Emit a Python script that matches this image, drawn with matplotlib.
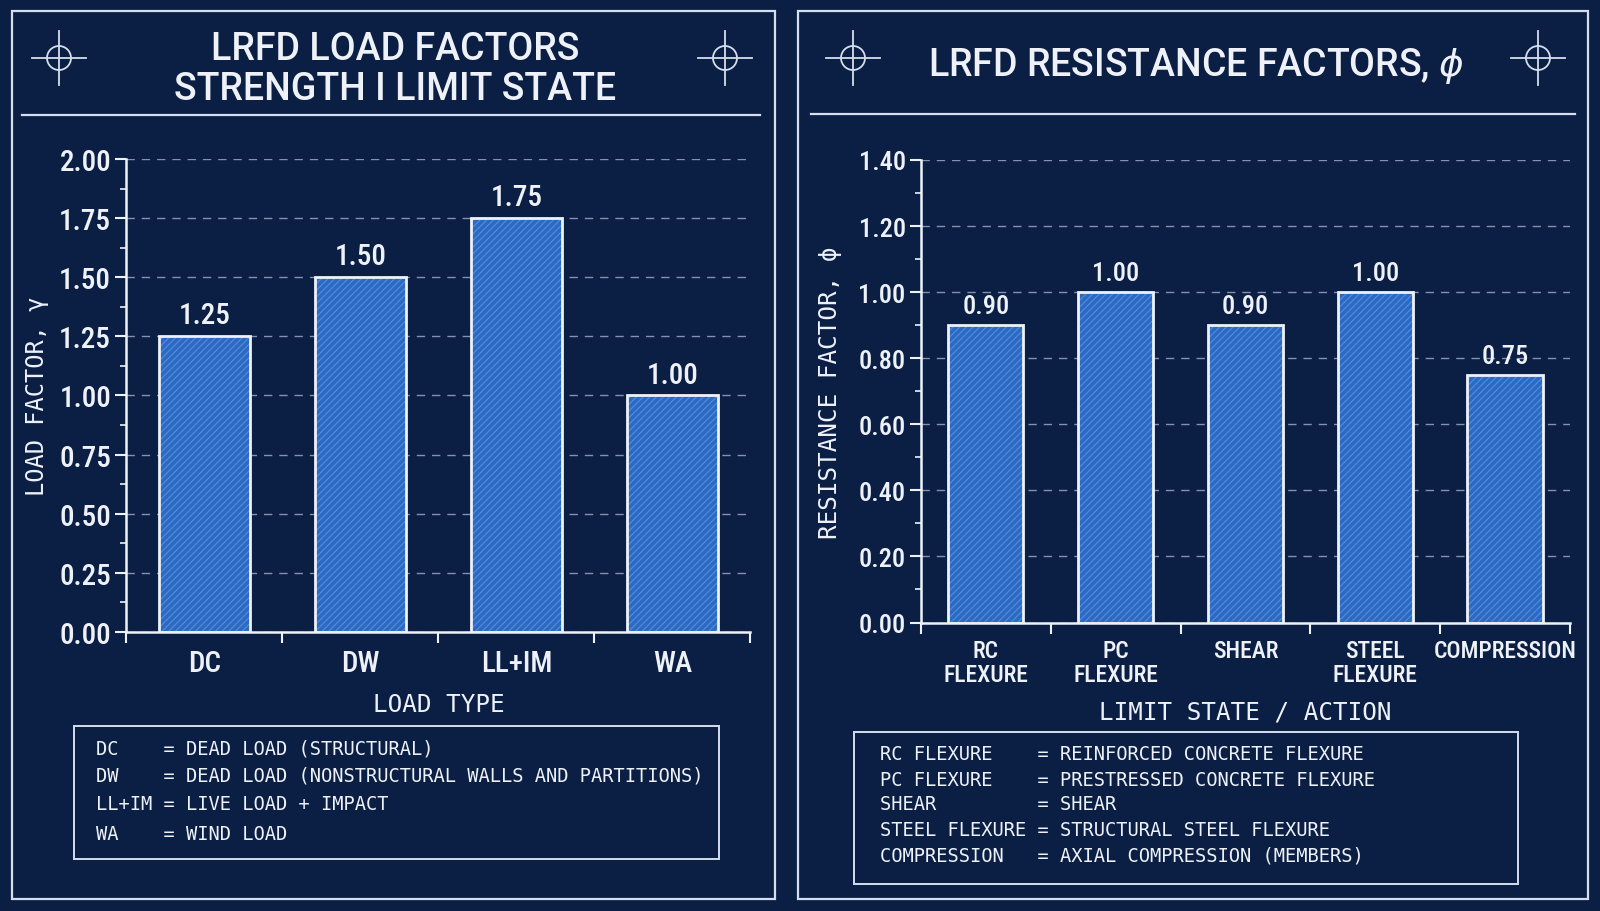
import numpy as np
import matplotlib.pyplot as plt
from matplotlib.patches import Circle, Rectangle
from matplotlib.lines import Line2D

# Datos
load_types = ['DC', 'DW', 'LL+IM', 'WA']
load_factors = [1.25, 1.50, 1.75, 1.00]
load_notes = ['DC    = DEAD LOAD (STRUCTURAL)',
              'DW    = DEAD LOAD (NONSTRUCTURAL WALLS AND PARTITIONS)',
              'LL+IM = LIVE LOAD + IMPACT',
              'WA    = WIND LOAD']

actions = ['RC\nFLEXURE', 'PC\nFLEXURE', 'SHEAR', 'STEEL\nFLEXURE', 'COMPRESSION']
resist_factors = [0.90, 1.00, 0.90, 1.00, 0.75]
action_notes = ['RC FLEXURE    = REINFORCED CONCRETE FLEXURE',
                'PC FLEXURE    = PRESTRESSED CONCRETE FLEXURE',
                'SHEAR         = SHEAR',
                'STEEL FLEXURE = STRUCTURAL STEEL FLEXURE',
                'COMPRESSION   = AXIAL COMPRESSION (MEMBERS)']

# Estilo
BG = '#0b1f44'
WHITE = '#eef2f8'
LINE = '#d5deec'
BAR = '#2c69c2'
HATCH = '#4f8bdc'
GRID = '#8492b2'
NARROW = ['Roboto Condensed', 'Roboto', 'DejaVu Sans']
WIDE = ['Roboto', 'DejaVu Sans']
MONO = ['DejaVu Sans Mono', 'DejaVu Sans']

plt.rcParams['hatch.linewidth'] = 0.9

fig = plt.figure(figsize=(16, 9.12), dpi=100, facecolor=BG)

# Capa de decoracion en pixeles
deco = fig.add_axes([0, 0, 1, 1], zorder=0)
deco.set_xlim(0, 1600)
deco.set_ylim(912, 0)
deco.axis('off')
deco.patch.set_alpha(0)

for x0, x1 in [(12, 775), (798, 1588)]:
    deco.add_patch(Rectangle((x0, 12), x1 - x0, 888, fill=False, ec=LINE, lw=1.6))
deco.add_line(Line2D([22, 760], [116, 116], color=LINE, lw=1.6))
deco.add_line(Line2D([811, 1575], [115, 115], color=LINE, lw=1.6))

for cx, cy in [(59, 59), (725, 59), (853, 59), (1538, 59)]:
    deco.add_patch(Circle((cx, cy), 12, fill=False, ec=LINE, lw=1.3))
    deco.add_line(Line2D([cx - 27, cx + 27], [cy, cy], color=LINE, lw=1.3))
    deco.add_line(Line2D([cx, cx], [cy - 27, cy + 27], color=LINE, lw=1.3))

title_kw = dict(color=WHITE, fontsize=27, family=WIDE, fontweight='medium',
                ha='center', va='center')
deco.text(395, 49, 'LRFD LOAD FACTORS', **title_kw)
deco.text(395, 89, 'STRENGTH I LIMIT STATE', **title_kw)
deco.text(1196, 66, r'LRFD RESISTANCE FACTORS, $\phi$', **title_kw)

# Cajas de leyenda
deco.add_patch(Rectangle((73.5, 727), 645.5, 133, fill=False, ec=LINE, lw=1.4))
for y, s in zip([749, 776.5, 805, 835], load_notes):
    deco.text(96, y, s, color=WHITE, fontsize=13.5, family=MONO, va='center')
deco.add_patch(Rectangle((854, 733), 664, 152, fill=False, ec=LINE, lw=1.4))
for y, s in zip([755, 780.5, 805, 830.5, 856], action_notes):
    deco.text(880.5, y, s, color=WHITE, fontsize=13.5, family=MONO, va='center')


def bar_panel(ax, cats, vals, ymax, step, tick_fs, lab_fs, xtick_fs):
    x = np.arange(len(cats))
    ax.patch.set_alpha(0)
    ax.bar(x, vals, width=0.58, color=BAR, lw=0, zorder=2)
    ax.bar(x, vals, width=0.58, fill=False, hatch='/////', ec=HATCH, lw=0, zorder=3)
    ax.bar(x, vals, width=0.58, fill=False, ec=WHITE, lw=2, zorder=4)
    for xi, v in zip(x, vals):
        ax.annotate(f'{v:.2f}', (xi, v), xytext=(0, 5), textcoords='offset points',
                    ha='center', va='bottom', color=WHITE, fontsize=lab_fs,
                    family=NARROW, fontweight='medium')
    ax.set_xlim(-0.5, len(cats) - 0.5)
    ax.set_ylim(0, ymax)
    ticks = np.arange(0, ymax + step / 2, step)
    ax.set_yticks(ticks)
    ax.set_yticks(np.arange(step / 2, ymax, step), minor=True)
    ax.set_yticklabels([f'{t:.2f}' for t in ticks], family=NARROW,
                       fontsize=tick_fs, color=WHITE, fontweight='medium')
    ax.set_xticks(x)
    ax.set_xticklabels(cats, family=NARROW, fontsize=xtick_fs, color=WHITE,
                       linespacing=1.05, fontweight='medium')
    ax.set_xticks(np.arange(-0.5, len(cats), 1.0), minor=True)
    ax.tick_params(axis='x', which='major', length=0, pad=12)
    ax.tick_params(axis='x', which='minor', length=8, width=1.5, color=WHITE)
    ax.tick_params(axis='y', which='major', length=8, width=1.5, color=WHITE, pad=3)
    ax.tick_params(axis='y', which='minor', length=4, width=1.2, color=WHITE)
    for s in ['top', 'right']:
        ax.spines[s].set_visible(False)
    for s in ['left', 'bottom']:
        ax.spines[s].set_color(WHITE)
        ax.spines[s].set_linewidth(1.8)
    ax.grid(axis='y', color=GRID, ls=(0, (6, 5)), lw=1.0, zorder=0)
    ax.set_axisbelow(True)


ax1 = fig.add_axes([0.079, 0.306, 0.390, 0.5186], zorder=1)
bar_panel(ax1, load_types, load_factors, 2.0, 0.25, 21, 21, 21)
ax1.set_xlabel('LOAD TYPE', family=MONO, fontsize=17.5, color=WHITE, labelpad=11)
ax1.set_ylabel('LOAD FACTOR, γ', family=MONO, fontsize=17, color=WHITE, labelpad=7)

ax2 = fig.add_axes([0.5756, 0.3163, 0.4056, 0.5072], zorder=1)
bar_panel(ax2, actions, resist_factors, 1.4, 0.2, 19, 19, 17)
ax2.set_xlabel('LIMIT STATE / ACTION', family=MONO, fontsize=17.5, color=WHITE, labelpad=10)
ax2.set_ylabel('RESISTANCE FACTOR, ϕ', family=MONO, fontsize=17.5, color=WHITE, labelpad=12)

fig.savefig('out.png', dpi=100, facecolor=BG)
